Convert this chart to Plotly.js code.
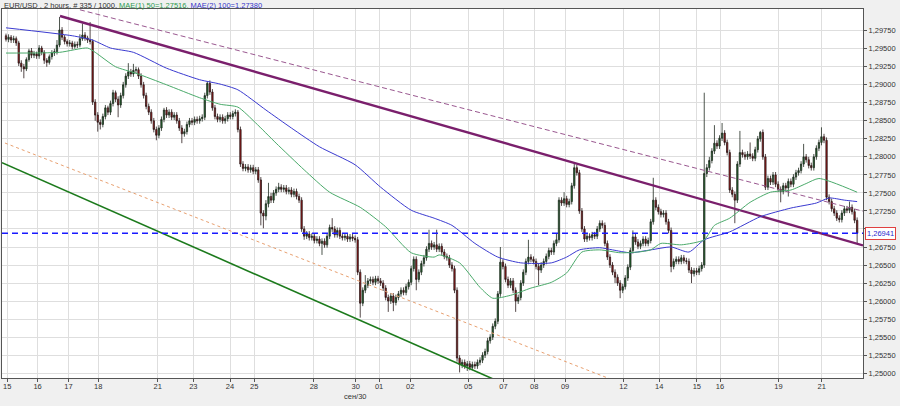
<!DOCTYPE html>
<html>
<head>
<meta charset="utf-8">
<script src="https://cdn.plot.ly/plotly-3.0.1.min.js"></script>
<style>html,body{margin:0;padding:0;background:#f0f0f0;}#chart{width:900px;height:406px;}</style>
</head>
<body>
<div id="chart"></div>
<script>
// ---- candle data (2-hour bars, index 0..334) ----
const openP = [1.2968,1.2963,1.2966,1.2962,1.2964,1.2958,1.2930,1.2925,1.2922,1.2935,1.2947,1.2941,
1.2943,1.2940,1.2951,1.2945,1.2934,1.2931,1.2939,1.2944,1.2946,1.2955,1.2976,1.2966,
1.2960,1.2957,1.2958,1.2953,1.2956,1.2955,1.2964,1.2969,1.2965,1.2962,1.2960,1.2876,
1.2858,1.2848,1.2845,1.2856,1.2868,1.2862,1.2874,1.2889,1.2880,1.2872,1.2885,1.2900,
1.2912,1.2918,1.2915,1.2920,1.2921,1.2912,1.2900,1.2885,1.2870,1.2862,1.2850,1.2838,
1.2830,1.2840,1.2852,1.2865,1.2858,1.2862,1.2855,1.2858,1.2850,1.2840,1.2832,1.2835,
1.2845,1.2850,1.2848,1.2852,1.2850,1.2853,1.2855,1.2885,1.2902,1.2890,1.2868,1.2856,
1.2852,1.2855,1.2850,1.2853,1.2858,1.2856,1.2860,1.2862,1.2838,1.2790,1.2784,1.2786,
1.2782,1.2785,1.2780,1.2782,1.2768,1.2722,1.2718,1.2735,1.2745,1.2740,1.2750,1.2755,
1.2758,1.2755,1.2757,1.2752,1.2754,1.2748,1.2752,1.2745,1.2740,1.2700,1.2690,1.2693,
1.2688,1.2690,1.2684,1.2686,1.2680,1.2683,1.2678,1.2690,1.2702,1.2700,1.2692,1.2698,
1.2690,1.2688,1.2690,1.2686,1.2689,1.2687,1.2685,1.2640,1.2597,1.2615,1.2622,1.2628,
1.2630,1.2626,1.2631,1.2628,1.2625,1.2618,1.2605,1.2600,1.2607,1.2598,1.2605,1.2610,
1.2615,1.2612,1.2620,1.2626,1.2645,1.2658,1.2630,1.2640,1.2652,1.2660,1.2672,1.2680,
1.2675,1.2678,1.2672,1.2676,1.2668,1.2662,1.2660,1.2650,1.2645,1.2615,1.2521,1.2512,
1.2515,1.2510,1.2513,1.2508,1.2512,1.2510,1.2515,1.2518,1.2525,1.2530,1.2545,1.2550,
1.2565,1.2572,1.2610,1.2654,1.2648,1.2630,1.2622,1.2628,1.2615,1.2600,1.2605,1.2625,
1.2640,1.2655,1.2661,1.2658,1.2655,1.2648,1.2643,1.2650,1.2655,1.2662,1.2670,1.2668,
1.2680,1.2685,1.2740,1.2736,1.2742,1.2734,1.2738,1.2760,1.2785,1.2778,1.2725,1.2700,
1.2686,1.2690,1.2688,1.2692,1.2690,1.2700,1.2708,1.2705,1.2680,1.2661,1.2650,1.2640,
1.2633,1.2625,1.2615,1.2620,1.2632,1.2647,1.2670,1.2689,1.2682,1.2676,1.2680,1.2686,
1.2680,1.2684,1.2710,1.2740,1.2730,1.2724,1.2720,1.2722,1.2710,1.2698,1.2648,1.2655,
1.2658,1.2655,1.2660,1.2656,1.2655,1.2643,1.2638,1.2642,1.2640,1.2645,1.2650,1.2777,
1.2785,1.2795,1.2808,1.2819,1.2815,1.2826,1.2833,1.2820,1.2806,1.2754,1.2748,1.2740,
1.2790,1.2806,1.2803,1.2800,1.2804,1.2801,1.2798,1.2810,1.2825,1.2834,1.2800,1.2758,
1.2770,1.2765,1.2775,1.2762,1.2755,1.2752,1.2760,1.2757,1.2766,1.2762,1.2772,1.2778,
1.2781,1.2790,1.2800,1.2796,1.2788,1.2785,1.2800,1.2812,1.2820,1.2828,1.2823,1.2744,
1.2738,1.2728,1.2722,1.2715,1.2713,1.2722,1.2728,1.2726,1.2730,1.2724,1.2712];

const highP = [1.2971,1.2970,1.2969,1.2968,1.2967,1.2961,1.2934,1.2929,1.2938,1.2950,1.2951,1.2947,
1.2946,1.2955,1.2954,1.2948,1.2937,1.2942,1.2948,1.2950,1.2962,1.2994,1.2980,1.2969,
1.2963,1.2962,1.2961,1.2960,1.2960,1.2970,1.2985,1.2973,1.2968,1.2987,1.2963,1.2880,
1.2862,1.2852,1.2860,1.2872,1.2871,1.2878,1.2893,1.2892,1.2884,1.2889,1.2904,1.2916,
1.2930,1.2922,1.2929,1.2925,1.2924,1.2916,1.2904,1.2889,1.2874,1.2866,1.2854,1.2842,
1.2844,1.2856,1.2868,1.2869,1.2866,1.2866,1.2862,1.2862,1.2854,1.2844,1.2839,1.2849,
1.2854,1.2854,1.2856,1.2856,1.2857,1.2859,1.2889,1.2905,1.2906,1.2894,1.2872,1.2860,
1.2859,1.2859,1.2857,1.2862,1.2862,1.2864,1.2866,1.2865,1.2842,1.2794,1.2790,1.2790,
1.2789,1.2789,1.2786,1.2786,1.2772,1.2726,1.2740,1.2764,1.2750,1.2754,1.2759,1.2764,
1.2762,1.2761,1.2761,1.2758,1.2758,1.2756,1.2756,1.2749,1.2744,1.2704,1.2697,1.2697,
1.2694,1.2694,1.2690,1.2690,1.2687,1.2687,1.2694,1.2706,1.2715,1.2704,1.2702,1.2702,
1.2694,1.2694,1.2694,1.2693,1.2693,1.2691,1.2689,1.2644,1.2619,1.2636,1.2632,1.2634,
1.2634,1.2635,1.2635,1.2632,1.2629,1.2622,1.2609,1.2611,1.2611,1.2609,1.2614,1.2619,
1.2619,1.2624,1.2630,1.2649,1.2662,1.2662,1.2644,1.2656,1.2664,1.2676,1.2699,1.2684,
1.2682,1.2699,1.2680,1.2680,1.2672,1.2666,1.2664,1.2654,1.2649,1.2619,1.2525,1.2519,
1.2519,1.2517,1.2517,1.2516,1.2516,1.2519,1.2522,1.2529,1.2534,1.2549,1.2554,1.2569,
1.2576,1.2614,1.2675,1.2658,1.2652,1.2634,1.2632,1.2632,1.2619,1.2609,1.2629,1.2644,
1.2659,1.2685,1.2665,1.2662,1.2659,1.2652,1.2654,1.2659,1.2666,1.2674,1.2674,1.2684,
1.2694,1.2744,1.2744,1.2751,1.2746,1.2742,1.2764,1.2791,1.2789,1.2782,1.2729,1.2704,
1.2694,1.2694,1.2696,1.2696,1.2704,1.2712,1.2712,1.2709,1.2684,1.2665,1.2654,1.2644,
1.2637,1.2629,1.2624,1.2636,1.2651,1.2674,1.2698,1.2693,1.2686,1.2684,1.2690,1.2690,
1.2688,1.2714,1.2771,1.2744,1.2734,1.2728,1.2726,1.2726,1.2714,1.2702,1.2659,1.2662,
1.2662,1.2664,1.2664,1.2660,1.2659,1.2647,1.2646,1.2646,1.2649,1.2654,1.2889,1.2790,
1.2800,1.2812,1.2844,1.2823,1.2830,1.2847,1.2837,1.2824,1.2810,1.2758,1.2752,1.2794,
1.2836,1.2810,1.2807,1.2808,1.2820,1.2805,1.2814,1.2829,1.2836,1.2838,1.2804,1.2774,
1.2774,1.2779,1.2779,1.2766,1.2759,1.2764,1.2764,1.2770,1.2770,1.2776,1.2782,1.2785,
1.2794,1.2818,1.2804,1.2800,1.2792,1.2804,1.2816,1.2824,1.2841,1.2832,1.2827,1.2748,
1.2742,1.2732,1.2726,1.2719,1.2726,1.2732,1.2732,1.2738,1.2734,1.2728,1.2716];

const lowP = [1.2960,1.2959,1.2958,1.2958,1.2954,1.2926,1.2918,1.2909,1.2919,1.2932,1.2937,1.2937,
1.2936,1.2936,1.2941,1.2929,1.2925,1.2928,1.2935,1.2940,1.2942,1.2952,1.2962,1.2956,
1.2953,1.2953,1.2949,1.2950,1.2951,1.2952,1.2961,1.2961,1.2958,1.2956,1.2872,1.2850,
1.2835,1.2838,1.2841,1.2852,1.2858,1.2858,1.2870,1.2876,1.2855,1.2868,1.2881,1.2896,
1.2908,1.2911,1.2911,1.2916,1.2908,1.2896,1.2881,1.2866,1.2858,1.2846,1.2834,1.2823,
1.2826,1.2836,1.2848,1.2854,1.2854,1.2851,1.2851,1.2846,1.2836,1.2819,1.2828,1.2831,
1.2841,1.2844,1.2844,1.2846,1.2846,1.2849,1.2851,1.2881,1.2886,1.2864,1.2852,1.2848,
1.2848,1.2846,1.2846,1.2849,1.2852,1.2852,1.2856,1.2834,1.2786,1.2780,1.2780,1.2778,
1.2778,1.2776,1.2776,1.2764,1.2705,1.2701,1.2712,1.2730,1.2736,1.2736,1.2746,1.2751,
1.2751,1.2751,1.2748,1.2748,1.2744,1.2744,1.2741,1.2736,1.2696,1.2685,1.2686,1.2684,
1.2684,1.2680,1.2680,1.2676,1.2664,1.2674,1.2674,1.2686,1.2696,1.2688,1.2688,1.2686,
1.2684,1.2684,1.2682,1.2682,1.2683,1.2681,1.2636,1.2577,1.2593,1.2611,1.2618,1.2624,
1.2622,1.2622,1.2624,1.2621,1.2614,1.2601,1.2585,1.2596,1.2586,1.2594,1.2601,1.2606,
1.2608,1.2608,1.2616,1.2622,1.2641,1.2615,1.2626,1.2636,1.2648,1.2656,1.2668,1.2671,
1.2671,1.2668,1.2668,1.2664,1.2658,1.2656,1.2646,1.2641,1.2611,1.2516,1.2501,1.2507,
1.2506,1.2503,1.2504,1.2504,1.2506,1.2506,1.2511,1.2514,1.2521,1.2526,1.2541,1.2546,
1.2561,1.2568,1.2606,1.2644,1.2626,1.2618,1.2618,1.2611,1.2585,1.2596,1.2601,1.2621,
1.2636,1.2651,1.2654,1.2651,1.2644,1.2622,1.2639,1.2646,1.2651,1.2658,1.2664,1.2664,
1.2676,1.2681,1.2732,1.2732,1.2730,1.2730,1.2734,1.2756,1.2774,1.2721,1.2696,1.2682,
1.2682,1.2684,1.2684,1.2686,1.2686,1.2696,1.2701,1.2676,1.2657,1.2646,1.2636,1.2625,
1.2621,1.2604,1.2611,1.2616,1.2628,1.2643,1.2666,1.2678,1.2672,1.2672,1.2676,1.2676,
1.2676,1.2680,1.2706,1.2726,1.2720,1.2716,1.2716,1.2706,1.2694,1.2640,1.2644,1.2651,
1.2651,1.2651,1.2652,1.2651,1.2639,1.2625,1.2634,1.2636,1.2636,1.2641,1.2646,1.2772,
1.2781,1.2791,1.2804,1.2811,1.2811,1.2822,1.2816,1.2802,1.2750,1.2744,1.2708,1.2736,
1.2786,1.2799,1.2796,1.2796,1.2797,1.2794,1.2794,1.2806,1.2821,1.2796,1.2754,1.2754,
1.2761,1.2761,1.2758,1.2751,1.2737,1.2748,1.2753,1.2745,1.2758,1.2758,1.2768,1.2774,
1.2777,1.2786,1.2792,1.2784,1.2781,1.2781,1.2796,1.2808,1.2816,1.2819,1.2740,1.2734,
1.2724,1.2718,1.2711,1.2709,1.2709,1.2718,1.2722,1.2722,1.2720,1.2708,1.2680];

const closeP = [1.2963,1.2966,1.2962,1.2964,1.2958,1.2930,1.2925,1.2922,1.2935,1.2947,1.2941,1.2943,
1.2940,1.2951,1.2945,1.2934,1.2931,1.2939,1.2944,1.2946,1.2955,1.2976,1.2966,1.2960,
1.2957,1.2958,1.2953,1.2956,1.2955,1.2964,1.2969,1.2965,1.2962,1.2960,1.2876,1.2858,
1.2848,1.2845,1.2856,1.2868,1.2862,1.2874,1.2889,1.2880,1.2872,1.2885,1.2900,1.2912,
1.2918,1.2915,1.2920,1.2921,1.2912,1.2900,1.2885,1.2870,1.2862,1.2850,1.2838,1.2830,
1.2840,1.2852,1.2865,1.2858,1.2862,1.2855,1.2858,1.2850,1.2840,1.2832,1.2835,1.2845,
1.2850,1.2848,1.2852,1.2850,1.2853,1.2855,1.2885,1.2902,1.2890,1.2868,1.2856,1.2852,
1.2855,1.2850,1.2853,1.2858,1.2856,1.2860,1.2862,1.2838,1.2790,1.2784,1.2786,1.2782,
1.2785,1.2780,1.2782,1.2768,1.2722,1.2718,1.2735,1.2745,1.2740,1.2750,1.2755,1.2758,
1.2755,1.2757,1.2752,1.2754,1.2748,1.2752,1.2745,1.2740,1.2700,1.2690,1.2693,1.2688,
1.2690,1.2684,1.2686,1.2680,1.2683,1.2678,1.2690,1.2702,1.2700,1.2692,1.2698,1.2690,
1.2688,1.2690,1.2686,1.2689,1.2687,1.2685,1.2640,1.2597,1.2615,1.2622,1.2628,1.2630,
1.2626,1.2631,1.2628,1.2625,1.2618,1.2605,1.2600,1.2607,1.2598,1.2605,1.2610,1.2615,
1.2612,1.2620,1.2626,1.2645,1.2658,1.2630,1.2640,1.2652,1.2660,1.2672,1.2680,1.2675,
1.2678,1.2672,1.2676,1.2668,1.2662,1.2660,1.2650,1.2645,1.2615,1.2521,1.2512,1.2515,
1.2510,1.2513,1.2508,1.2512,1.2510,1.2515,1.2518,1.2525,1.2530,1.2545,1.2550,1.2565,
1.2572,1.2610,1.2654,1.2648,1.2630,1.2622,1.2628,1.2615,1.2600,1.2605,1.2625,1.2640,
1.2655,1.2661,1.2658,1.2655,1.2648,1.2643,1.2650,1.2655,1.2662,1.2670,1.2668,1.2680,
1.2685,1.2740,1.2736,1.2742,1.2734,1.2738,1.2760,1.2785,1.2778,1.2725,1.2700,1.2686,
1.2690,1.2688,1.2692,1.2690,1.2700,1.2708,1.2705,1.2680,1.2661,1.2650,1.2640,1.2633,
1.2625,1.2615,1.2620,1.2632,1.2647,1.2670,1.2689,1.2682,1.2676,1.2680,1.2686,1.2680,
1.2684,1.2710,1.2740,1.2730,1.2724,1.2720,1.2722,1.2710,1.2698,1.2648,1.2655,1.2658,
1.2655,1.2660,1.2656,1.2655,1.2643,1.2638,1.2642,1.2640,1.2645,1.2650,1.2777,1.2785,
1.2795,1.2808,1.2819,1.2815,1.2826,1.2833,1.2820,1.2806,1.2754,1.2748,1.2740,1.2790,
1.2806,1.2803,1.2800,1.2804,1.2801,1.2798,1.2810,1.2825,1.2834,1.2800,1.2758,1.2770,
1.2765,1.2775,1.2762,1.2755,1.2752,1.2760,1.2757,1.2766,1.2762,1.2772,1.2778,1.2781,
1.2790,1.2800,1.2796,1.2788,1.2785,1.2800,1.2812,1.2820,1.2828,1.2823,1.2744,1.2738,
1.2728,1.2722,1.2715,1.2713,1.2722,1.2728,1.2726,1.2730,1.2724,1.2712,1.26941];

// ---- moving averages (read at selected bars) ----
const ma50Bars = [0,21,32,35,43,51,63,76,84,91,98,106,117,127,139,149,159,168,170,178,186,191,198,206,214,220,226,233,241,248,253,257,265,274,278,284,292,300,308,314,319,334];
const ma50Vals = [1.2944,1.2945,1.2951,1.2945,1.2925,1.2916,1.2900,1.2882,1.2873,1.2869,1.2847,1.2819,1.2782,1.2751,1.2730,1.2703,1.2667,1.2661,1.2664,1.2653,1.2619,1.2604,1.2608,1.2618,1.2626,1.2639,1.2668,1.2671,1.2667,1.2668,1.2671,1.2680,1.2678,1.2685,1.2705,1.2715,1.2737,1.2751,1.2754,1.2763,1.2770,1.2751];
const ma100Bars = [0,26,34,41,50,63,76,84,91,102,112,123,137,147,159,168,175,184,193,202,214,220,225,233,238,245,253,261,268,274,284,296,308,318,323,329,334];
const ma100Vals = [1.2979,1.2968,1.2962,1.2951,1.2945,1.2923,1.2907,1.2901,1.2893,1.2865,1.2840,1.2814,1.2789,1.2758,1.2726,1.2715,1.2705,1.2680,1.2661,1.2653,1.2653,1.2661,1.2671,1.2674,1.2671,1.2667,1.2671,1.2675,1.2668,1.2685,1.2696,1.2717,1.2729,1.2736,1.2743,1.2740,1.2738];

// ---- trend lines (bar index, price at end points) ----
const chanTopBars = [21.2, 336.3];   const chanTopVals = [1.29954, 1.26772];
const chanDashBars = [29, 336.3];    const chanDashVals = [1.30040, 1.27247];
const chanLowBars = [-1.57, 200];    const chanLowVals = [1.27920, 1.24782];
const chanDotBars = [-0.4, 250];     const chanDotVals = [1.28192, 1.24742];
const lastPrice = 1.26941;
const lastPriceText = '1,26941';

// ---- axis ticks ----
const xTickBars = [0.5,12.4,24.5,36.2,59.5,73.5,87.9,97.4,120.8,137.2,146.4,158.6,181.4,195.2,207.3,219.4,242.3,256.3,271.1,280.2,303.1,320.1];
const xTickText = ['15','16','17','18','21','23','24','25','28','30','01','02','05','07','08','09','12','14','15','16','19','21'];
const monthMarkBar = 137.2; const monthMarkText = 'сен/30';
const yTickVals = [1.25,1.2525,1.255,1.2575,1.26,1.2625,1.265,1.2675,1.27,1.2725,1.275,1.2775,1.28,1.2825,1.285,1.2875,1.29,1.2925,1.295,1.2975];
const yTickText = ['1,25000','1,25250','1,25500','1,25750','1,26000','1,26250','1,26500','1,26750','1,27000','1,27250','1,27500','1,27750','1,28000','1,28250','1,28500','1,28750','1,29000','1,29250','1,29500','1,29750'];

const xs = closeP.map((_, i) => i);
const F = 'Liberation Sans, Arial, sans-serif';

const traces = [
  {type:'scatter', mode:'lines', x:chanDotBars, y:chanDotVals, line:{color:'#e8a070', width:1, dash:'dot'}, hoverinfo:'skip'},
  {type:'scatter', mode:'lines', x:chanLowBars, y:chanLowVals, line:{color:'#1c7a1c', width:1.6}, hoverinfo:'skip'},
  {type:'scatter', mode:'lines', x:chanDashBars, y:chanDashVals, line:{color:'#9a5890', width:1, dash:'5px,3px'}, hoverinfo:'skip'},
  {type:'scatter', mode:'lines', x:chanTopBars, y:chanTopVals, line:{color:'#7a1f6c', width:2.4}, hoverinfo:'skip'},
  {type:'scatter', mode:'lines', x:ma100Bars, y:ma100Vals, line:{color:'#3a3ad0', width:1, shape:'spline', smoothing:0.6}, hoverinfo:'skip'},
  {type:'scatter', mode:'lines', x:ma50Bars, y:ma50Vals, line:{color:'#4aaa6a', width:1, shape:'spline', smoothing:0.6}, hoverinfo:'skip'},
  {type:'candlestick', x:xs, open:openP, high:highP, low:lowP, close:closeP,
   increasing:{line:{color:'#1f2a1f', width:0.8}, fillcolor:'#1f6a2c'},
   decreasing:{line:{color:'#2a1a1a', width:0.8}, fillcolor:'#a01515'},
   whiskerwidth:0, hoverinfo:'skip'}
];

const layout = {
  width:900, height:406,
  margin:{l:2, r:37, t:9, b:28},
  paper_bgcolor:'#f0f0f0', plot_bgcolor:'#ffffff',
  showlegend:false,
  font:{family:F, size:7.5, color:'#333'},
  boxgap:0.25,
  xaxis:{range:[-1.57, 336.3], tickmode:'array', tickvals:xTickBars, ticktext:xTickText,
    showgrid:true, gridcolor:'#dedede', gridwidth:1, zeroline:false,
    showline:true, mirror:true, linecolor:'#555', linewidth:1,
    ticks:'outside', ticklen:3, tickcolor:'#555', ticklabelstandoff:-2, tickfont:{family:F, size:7.5, color:'#333'},
    rangeslider:{visible:false}, fixedrange:true},
  yaxis:{range:[1.24933, 1.30051], side:'right', tickmode:'array', tickvals:yTickVals, ticktext:yTickText,
    showgrid:true, gridcolor:'#dedede', gridwidth:1, zeroline:false,
    showline:true, mirror:true, linecolor:'#555', linewidth:1,
    ticks:'outside', ticklen:3, tickcolor:'#555', tickfont:{family:F, size:7.5, color:'#333'}, fixedrange:true},
  shapes:[
    {type:'line', xref:'paper', x0:0, x1:1, yref:'y', y0:lastPrice, y1:lastPrice,
     line:{color:'#1a1aff', width:1.4, dash:'6px,4px'}}
  ],
  annotations:[
    {xref:'paper', yref:'paper', x:0, y:1, xanchor:'left', yanchor:'bottom', yshift:-3, showarrow:false,
     text:'EUR/USD , 2 hours, # 335 / 1000, <span style="color:#2e9a4e">MAE(1) 50=1,27516,</span> <span style="color:#3434c8">MAE(2) 100=1,27380</span>',
     font:{family:F, size:7.5, color:'#333'}},
    {xref:'paper', yref:'y', x:1, y:lastPrice, xanchor:'left', yanchor:'middle', xshift:2, showarrow:false,
     text:lastPriceText, bgcolor:'#ffffff', bordercolor:'#e04040', borderwidth:1, borderpad:1,
     font:{family:F, size:7.5, color:'#2a2ad0'}},
    {xref:'x', yref:'paper', x:monthMarkBar, y:0, xanchor:'center', yanchor:'top', yshift:-12, showarrow:false,
     text:monthMarkText, font:{family:F, size:7.5, color:'#333'}}
  ]
};

Plotly.newPlot('chart', traces, layout, {staticPlot:true, displayModeBar:false});
</script>
</body>
</html>
